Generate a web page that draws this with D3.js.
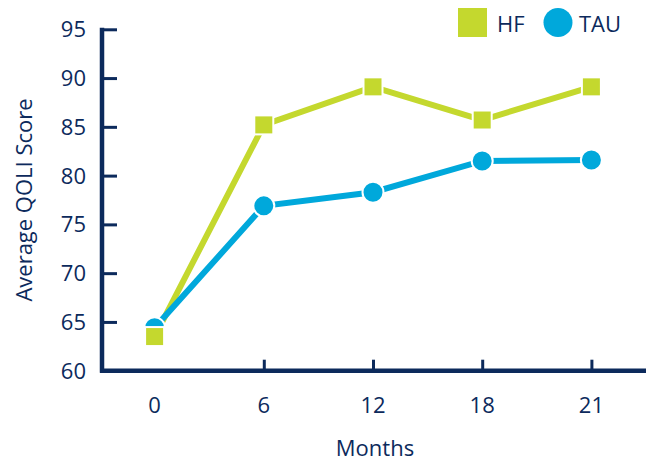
<!DOCTYPE html>
<html>
<head>
<meta charset="utf-8">
<script src="https://cdn.jsdelivr.net/npm/d3@7"></script>
<style>
  html, body { margin: 0; padding: 0; background: #ffffff; }
  svg { display: block; }
  text { font-family: "Open Sans", "Noto Sans", sans-serif; fill: #0c2a5c; }
</style>
</head>
<body>
<svg id="chart" width="649" height="461"></svg>
<script>
// Months of follow-up
const months = ["0", "6", "12", "18", "21"];
// Average QOLI score per group
const hfScores = [63.5, 85.2, 89.1, 85.7, 89.1];
const tauScores = [64.4, 76.9, 78.3, 81.5, 81.6];
const yTicks = [60, 65, 70, 75, 80, 85, 90, 95];
const seriesNames = ["HF", "TAU"];

const navy = "#0c2a5c";
const green = "#c4d82e";
const blue = "#00a8db";

const svg = d3.select("#chart");

const x = d3.scalePoint().domain(months).range([100, 646]).padding(0.5);
const y = d3.scaleLinear().domain([60, 95]).range([370.7, 29.3]);

// Y axis
const yAxis = svg.append("g").attr("transform", "translate(102,0)")
  .call(d3.axisRight(y).tickValues(yTicks).tickSize(15).tickFormat(""));
yAxis.select(".domain").remove();
yAxis.selectAll(".tick line").attr("stroke", navy).attr("stroke-width", 3);
svg.append("line").attr("x1", 102).attr("x2", 102)
  .attr("y1", y(95) - 1.5).attr("y2", y(60) + 2)
  .attr("stroke", navy).attr("stroke-width", 4.5);

svg.append("g").selectAll("text").data(yTicks).join("text")
  .attr("x", 86).attr("y", d => y(d) + 8)
  .attr("text-anchor", "end").attr("font-size", 22)
  .text(d => d);

// X axis
const xAxis = svg.append("g").attr("transform", `translate(0,${y(60)})`)
  .call(d3.axisTop(x).tickValues(months.slice(1)).tickSize(11).tickFormat(""));
xAxis.select(".domain").remove();
xAxis.selectAll(".tick line").attr("stroke", navy).attr("stroke-width", 3);
svg.append("line").attr("x1", 100).attr("x2", 646)
  .attr("y1", y(60)).attr("y2", y(60))
  .attr("stroke", navy).attr("stroke-width", 4.5);

svg.append("g").selectAll("text").data(months).join("text")
  .attr("x", d => x(d)).attr("y", 413)
  .attr("text-anchor", "middle").attr("font-size", 22)
  .text(d => d);

// Axis titles
svg.append("text").attr("x", 375).attr("y", 456)
  .attr("text-anchor", "middle").attr("font-size", 22).text("Months");
svg.append("text")
  .attr("transform", "translate(32,200) rotate(-90)")
  .attr("text-anchor", "middle").attr("font-size", 22).text("Average QOLI Score");

// Lines
const line = d3.line().x((d, i) => x(months[i])).y(d => y(d));
svg.append("path").datum(hfScores).attr("d", line)
  .attr("fill", "none").attr("stroke", green).attr("stroke-width", 6);
svg.append("path").datum(tauScores).attr("d", line)
  .attr("fill", "none").attr("stroke", blue).attr("stroke-width", 6);

// Markers
svg.append("g").selectAll("circle").data(tauScores).join("circle")
  .attr("cx", (d, i) => x(months[i])).attr("cy", d => y(d)).attr("r", 10.5)
  .attr("fill", blue).attr("stroke", "#ffffff").attr("stroke-width", 2);
const sq = 19;
svg.append("g").selectAll("rect").data(hfScores).join("rect")
  .attr("x", (d, i) => x(months[i]) - sq / 2).attr("y", d => y(d) - sq / 2)
  .attr("width", sq).attr("height", sq)
  .attr("fill", green).attr("stroke", "#ffffff").attr("stroke-width", 2);

// Legend
const legend = svg.append("g");
legend.append("rect").attr("x", 458).attr("y", 8).attr("width", 29).attr("height", 29)
  .attr("fill", green);
legend.append("text").attr("x", 497).attr("y", 32).attr("font-size", 22).text(seriesNames[0]);
legend.append("circle").attr("cx", 558).attr("cy", 22.5).attr("r", 14.5).attr("fill", blue);
legend.append("text").attr("x", 579).attr("y", 32).attr("font-size", 22).text(seriesNames[1]);
</script>
</body>
</html>
